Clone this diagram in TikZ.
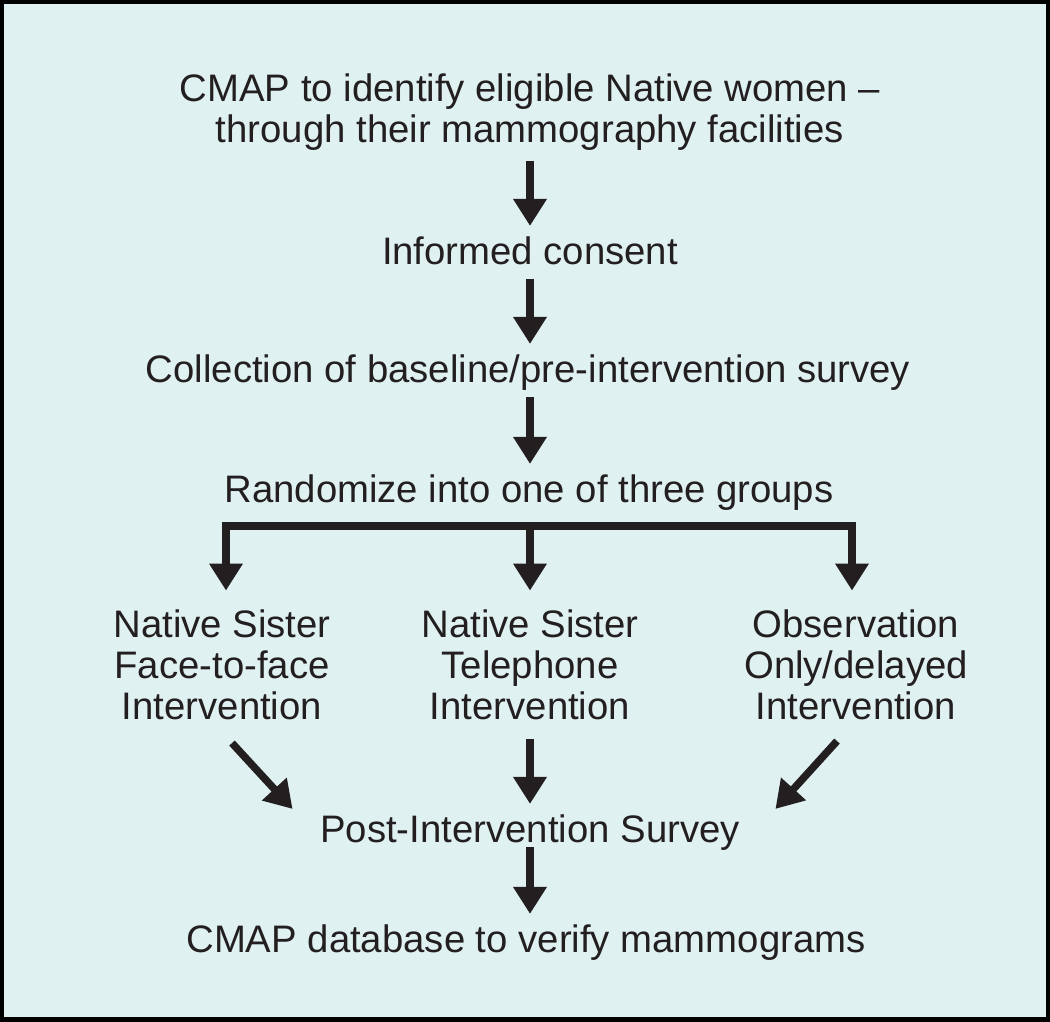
\documentclass[tikz,border=0pt]{standalone}
\usepackage{fontspec}
\setmainfont{Liberation Sans}
\usetikzlibrary{arrows.meta}

\definecolor{panel}{HTML}{E0F1F1}
\definecolor{ink}{HTML}{231F20}

\begin{document}
\begin{tikzpicture}[
  block text/.style={anchor=base, inner sep=0pt, align=center, text=ink,
    font=\fontsize{10.9}{11.8}\selectfont},
  label text/.style={block text, text height=0.75em, text depth=0.38em},
  flow arrow/.style={draw=ink, line width=0.075cm,
    -{Triangle[length=0.27cm,width=0.32cm]}, shorten >=0.12cm},
  fork line/.style={draw=ink, line width=0.075cm,
    -{Triangle[length=0.27cm,width=0.32cm]}}
]

 % Frame and panel
 \useasboundingbox (0,0) rectangle (10.5,10.22);
 \fill [black] (0,0) rectangle (10.5,10.22);
 \fill [panel] (0.045,0.05) rectangle (10.455,10.18);

 % Steps of the study
 \node [block text] (identify) at (5.30,8.79) {CMAP to identify eligible Native women --\\through their mammography facilities};
 \node [label text] (consent) at (5.30,7.57) {Informed consent};
 \node [label text] (baseline) at (5.28,6.39) {Collection of baseline/pre-intervention survey};
 \node [label text] (randomize) at (5.29,5.19) {Randomize into one of three groups};

 % The three groups
 \node [block text] (facetoface) at (2.22,3.02) {Native Sister\\Face-to-face\\Intervention};
 \node [block text] (telephone) at (5.30,3.02) {Native Sister\\Telephone\\Intervention};
 \node [block text] (observation) at (8.56,3.02) {Observation\\Only/delayed\\Intervention};

 % Follow up
 \node [label text] (post) at (5.30,1.79) {Post-Intervention Survey};
 \node [label text] (database) at (5.26,0.69) {CMAP database to verify mammograms};

 % Arrows down the column
 \draw [flow arrow, shorten <=0.09cm] (identify.south) -- (consent.north);
 \draw [flow arrow] (consent.south) -- (consent.south |- baseline.north);
 \draw [flow arrow] (baseline.south -| consent) -- (consent |- randomize.north);

 % Split into the groups
 \coordinate (fork) at (5.30,4.96);
 \draw [fork line] (fork) -| ([xshift=0.04cm,yshift=0.18cm]facetoface.north);
 \draw [fork line] (fork) -| ([xshift=-0.04cm,yshift=0.18cm]observation.north);
 \draw [fork line] (fork) -- ([yshift=0.18cm]telephone.north);

 % Back to the survey
 \draw [fork line] ([xshift=0.10cm,yshift=-0.22cm]facetoface.south) -- ([xshift=-0.27cm,yshift=0.07cm]post.north west);
 \draw [flow arrow, shorten <=0.18cm] (telephone.south) -- (post.north);
 \draw [fork line] ([xshift=-0.19cm,yshift=-0.20cm]observation.south) -- ([xshift=0.35cm,yshift=0.07cm]post.north east);
 \draw [flow arrow, shorten <=-0.1cm] (post.south) -- (post.south |- database.north);

\end{tikzpicture}
\end{document}
